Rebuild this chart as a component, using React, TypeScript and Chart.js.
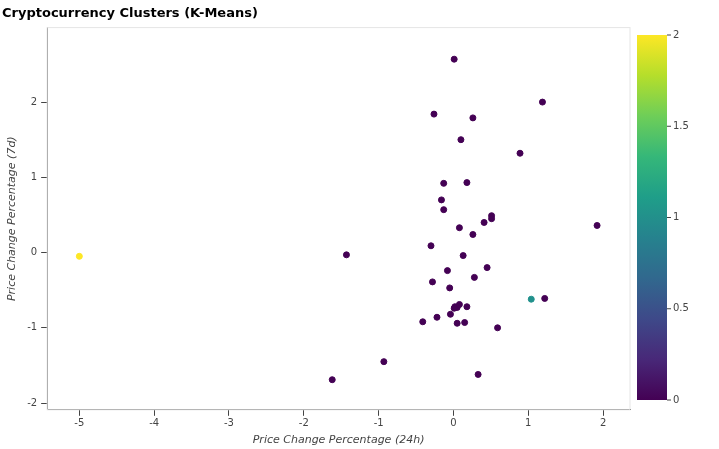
import React, { useEffect, useRef } from 'react';
import Chart from 'chart.js/auto';

const change24h = [0.01, 1.19, -0.26, 0.26, 0.1, 0.89, -0.13, 0.18, -0.16, -0.13, 0.51, 0.51, 0.41, 1.92, 0.08, 0.26, -0.3, -1.43, 0.13, -0.08, 0.45, 0.28, -0.28, -0.05, 1.04, 1.22, 0.02, 0.05, 0.08, 0.01, 0.18, -0.04, -0.22, -0.41, 0.05, 0.15, 0.59, -0.93, 0.33, -1.62, -5.0];
const change7d = [2.57, 2.0, 1.84, 1.79, 1.5, 1.32, 0.92, 0.93, 0.7, 0.57, 0.49, 0.45, 0.4, 0.36, 0.33, 0.24, 0.09, -0.03, -0.04, -0.24, -0.2, -0.33, -0.39, -0.47, -0.62, -0.61, -0.72, -0.73, -0.69, -0.74, -0.72, -0.82, -0.86, -0.92, -0.94, -0.93, -1.0, -1.45, -1.62, -1.69, -0.05];
const cluster = [0, 0, 0, 0, 0, 0, 0, 0, 0, 0, 0, 0, 0, 0, 0, 0, 0, 0, 0, 0, 0, 0, 0, 0, 1, 0, 0, 0, 0, 0, 0, 0, 0, 0, 0, 0, 0, 0, 0, 0, 2];
const clusterColors = ['#440154', '#21918c', '#fde725'];
const colorbarTicks = [0, 0.5, 1, 1.5, 2];
const viridis = ['#440154', '#482878', '#3e4989', '#31688e', '#26828e', '#1f9e89', '#35b779', '#6ece58', '#b5de2b', '#fde725'];

const colorbarPlugin = {
  id: 'colorbar',
  afterDraw(chart: any) {
    const { ctx, chartArea } = chart;
    ctx.save();
    // plot frame
    ctx.strokeStyle = '#e5e5e5';
    ctx.lineWidth = 1;
    ctx.strokeRect(chartArea.left, chartArea.top, chartArea.right - chartArea.left, chartArea.bottom - chartArea.top);
    const x0 = 637, x1 = 667, top = 35, bottom = 400;
    const g = ctx.createLinearGradient(0, bottom, 0, top);
    viridis.forEach((c, i) => g.addColorStop(i / (viridis.length - 1), c));
    ctx.fillStyle = g;
    ctx.fillRect(x0, top, x1 - x0, bottom - top);
    ctx.fillStyle = '#444';
    ctx.strokeStyle = '#444';
    ctx.font = '10px "DejaVu Sans", sans-serif';
    ctx.textBaseline = 'middle';
    colorbarTicks.forEach((t) => {
      const y = bottom - (t / 2) * (bottom - top);
      ctx.beginPath();
      ctx.moveTo(x1, y);
      ctx.lineTo(x1 + 4, y);
      ctx.stroke();
      ctx.fillText(String(t), x1 + 6, y);
    });
    ctx.restore();
  },
};

const tickFont = { family: '"DejaVu Sans", sans-serif', size: 10 };
const titleFont = { family: '"DejaVu Sans", sans-serif', size: 11, style: 'italic' as const };

export default function App() {
  const ref = useRef<HTMLCanvasElement>(null);
  useEffect(() => {
    if (!ref.current) return;
    const chart = new Chart(ref.current, {
      type: 'scatter',
      data: {
        datasets: [
          {
            data: change24h.map((x, i) => ({ x, y: change7d[i] })),
            backgroundColor: cluster.map((c) => clusterColors[c]),
            borderColor: cluster.map((c) => clusterColors[c]),
            pointRadius: 3,
            pointHoverRadius: 3,
          },
        ],
      },
      options: {
        animation: false,
        responsive: false,
        layout: { padding: { top: 0, right: 89, left: 2, bottom: 0 } },
        plugins: {
          legend: { display: false },
          tooltip: { enabled: false },
          title: {
            display: true,
            text: 'Cryptocurrency Clusters (K-Means)',
            align: 'start',
            color: '#000',
            font: { family: '"DejaVu Sans", sans-serif', size: 13, weight: 'bold' },
            padding: { top: 6, bottom: 6 },
          },
        },
        scales: {
          x: {
            type: 'linear',
            min: -5.43,
            max: 2.36,
            afterBuildTicks: (s: any) => { s.ticks = [-5, -4, -3, -2, -1, 0, 1, 2].map((v) => ({ value: v })); },
            grid: { display: true, drawOnChartArea: false, tickLength: 6, tickColor: '#444', color: '#444' },
            border: { color: '#444' },
            ticks: { color: '#444', font: tickFont, padding: 2 },
            title: { display: true, text: 'Price Change Percentage (24h)', color: '#444', font: titleFont, padding: { top: 2, bottom: 2 } },
          },
          y: {
            type: 'linear',
            min: -2.09,
            max: 2.99,
            afterBuildTicks: (s: any) => { s.ticks = [-2, -1, 0, 1, 2].map((v) => ({ value: v })); },
            grid: { display: true, drawOnChartArea: false, tickLength: 6, tickColor: '#444', color: '#444' },
            border: { color: '#444' },
            ticks: { color: '#444', font: tickFont, padding: 4 },
            title: { display: true, text: 'Price Change Percentage (7d)', color: '#444', font: titleFont },
          },
        },
      },
      plugins: [colorbarPlugin],
    });
    return () => chart.destroy();
  }, []);
  return (
    <div style={{ position: 'fixed', left: 0, top: 0, width: 719, height: 449, background: '#fff' }}>
      <canvas ref={ref} width={719} height={449} />
    </div>
  );
}
